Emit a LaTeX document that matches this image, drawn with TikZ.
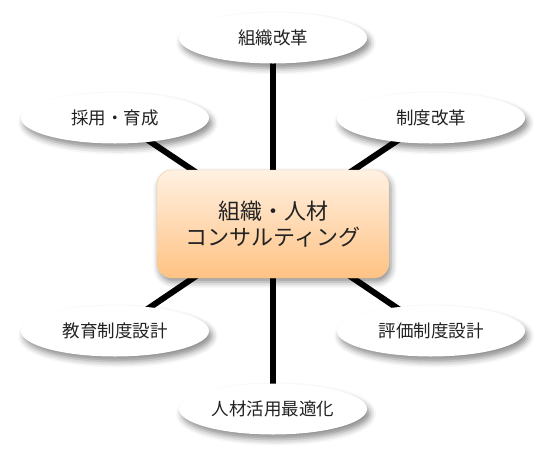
\documentclass[tikz,border=0pt]{standalone}
\usepackage{fontspec}
\setmainfont{Noto Sans CJK JP}
\usetikzlibrary{shapes.geometric}
\usetikzlibrary{shadows.blur}
\usetikzlibrary{backgrounds}

\definecolor{hubtop}{HTML}{FFF1E2}
\definecolor{hubbottom}{HTML}{FFC283}
\definecolor{hubline}{HTML}{F2C9A0}
\definecolor{inktext}{HTML}{222222}

\begin{document}
\begin{tikzpicture}
[x=1pt,y=-1pt,%
  item/.style={shape=ellipse,fill=white,inner sep=0pt,minimum width=188pt,minimum height=51pt,%
    text=inktext,font=\fontsize{17.5}{20}\selectfont,%
    blur shadow={shadow xshift=3pt,shadow yshift=-5pt,shadow blur radius=6pt,shadow opacity=45}},%
  hub/.style={shape=rectangle,rounded corners=15pt,draw=hubline,thin,top color=hubtop,bottom color=hubbottom,%
    minimum width=232pt,minimum height=108pt,align=center,text=inktext,%
    font=\fontsize{22}{25.5}\selectfont,%
    blur shadow={shadow xshift=2pt,shadow yshift=-4pt,shadow blur radius=6pt,shadow opacity=45}},%
  spoke/.style={line width=6pt,black}]
\useasboundingbox (0,0) rectangle (546,464);
\node[hub] (center) at (273,224) {組織・人材\\コンサルティング};
\node[item] (org) at (273,38) {組織改革};
\node[item] (hire) at (115,118) {採用・育成};
\node[item] (system) at (431,118) {制度改革};
\node[item] (edu) at (115,331) {教育制度設計};
\node[item] (eval) at (431,331) {評価制度設計};
\node[item] (talent) at (273,409) {人材活用最適化};
\begin{scope}[on background layer]
  \foreach \n in {org,hire,system,edu,eval,talent}
    \draw[spoke] (center.center) -- (\n.center);
\end{scope}
\end{tikzpicture}
\end{document}
